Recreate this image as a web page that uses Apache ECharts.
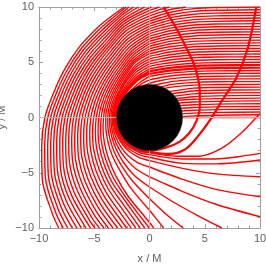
<!DOCTYPE html>
<html><head><meta charset="utf-8">
<script src="https://cdn.jsdelivr.net/npm/echarts@6/dist/echarts.min.js"></script>
<style>html,body{margin:0;padding:0;background:#fff}#c{width:266px;height:264px}</style>
</head><body><div id="c"></div>
<script>
const tickValues = [-10, -5, 0, 5, 10];
const tickLabels = ['\u221210', '\u22125', '0', '5', '10'];
const xAxisName = 'x / M';
const yAxisName = 'y / M';
const diskRadius = 3;

// rays (x, y) that fall straight into the black disk
const capturedPaths = [
  [[10,0],[2,0]],[[10,0.25],[6,0.21],[4,0.15],[2,0]],[[10,0.5],[6,0.46],[4,0.4],[2,0.25]],
  [[10,0.75],[6,0.71],[4,0.65],[2,0.5]],[[10,1],[6,0.96],[4,0.9],[2,0.75]],
  [[10,1.25],[6,1.21],[4,1.15],[2,1.0]],[[10,1.5],[6,1.46],[4,1.4],[2,1.25]],
  [[10,1.75],[6,1.71],[4,1.65],[2,1.5]],[[10,2],[6,1.96],[4,1.88],[2,1.65]],
  [[10,2.25],[6,2.22],[4,2.14],[2,1.9]],[[10,2.5],[6,2.47],[4,2.4],[2,2.15]],
  [[10,2.75],[6,2.72],[4,2.66],[1.5,2.3]],[[10,3],[6,2.98],[4,2.93],[2,2.75],[1.2,2.6]],
  [[10,3.25],[6,3.23],[4,3.18],[2,3.0],[1,2.75]],[[10,3.5],[6,3.48],[4,3.43],[2,3.25],[1,3.05],[0,2.8]],
  [[10,3.75],[6,3.73],[4,3.68],[2,3.52],[1,3.35],[0,3.1]],
  [[10,4],[6,3.98],[4,3.93],[2,3.78],[1,3.62],[0,3.4]],
  [[10,4.25],[6,4.22],[4,4.17],[2,4.02],[1,3.89],[0,3.72]]
];
// polar continuations (angle deg, r) of the last three captured rays
const capturedArcs = [
  [[90,3.1],[105,2.85]],
  [[90,3.4],[105,3.1],[120,2.85]],
  [[90,3.72],[105,3.3],[120,3.0],[135,2.85]]
];

// escaping rays, outermost first: head (x, y), arc (angle deg, r), tail (x, y)
const rayHeads = [
  [],[],[],[],[],[],[],
  [[0.9,10],[0,9.7]],
  [[1.8,10],[1,9.78],[0,9.45]],
  [[3.3,10],[2,9.8],[1,9.53],[0,9.2]],
  [[10,10],[6,9.95],[4,9.85],[2,9.55],[1,9.28],[0,8.95]],
  [[10,9.75],[6,9.7],[4,9.6],[2,9.3],[1,9.03],[0,8.72]],
  [[10,9.5],[6,9.45],[4,9.35],[2,9.06],[1,8.8],[0,8.5]],
  [[10,9.25],[6,9.2],[4,9.11],[2,8.83],[1,8.57],[0,8.27]],
  [[10,9],[6,8.95],[4,8.86],[2,8.59],[1,8.34],[0,8.04]],
  [[10,8.75],[6,8.7],[4,8.62],[2,8.35],[1,8.11],[0,7.81]],
  [[10,8.5],[6,8.46],[4,8.37],[2,8.11],[1,7.88],[0,7.59]],
  [[10,8.25],[6,8.21],[4,8.12],[2,7.87],[1,7.64],[0,7.36]],
  [[10,8],[6,7.96],[4,7.88],[2,7.63],[1,7.4],[0,7.13]],
  [[10,7.75],[6,7.71],[4,7.63],[2,7.39],[1,7.17],[0,6.9]],
  [[10,7.5],[6,7.46],[4,7.38],[2,7.15],[1,6.94],[0,6.68]],
  [[10,7.25],[6,7.21],[4,7.14],[2,6.91],[1,6.7],[0,6.45]],
  [[10,7],[6,6.96],[4,6.89],[2,6.67],[1,6.47],[0,6.22]],
  [[10,6.75],[6,6.71],[4,6.64],[2,6.43],[1,6.24],[0,6.0]],
  [[10,6.5],[6,6.47],[4,6.4],[2,6.19],[1,6.0],[0,5.77]],
  [[10,6.25],[6,6.22],[4,6.15],[2,5.95],[1,5.76],[0,5.54]],
  [[10,6],[6,5.97],[4,5.9],[2,5.7],[1,5.53],[0,5.31]],
  [[10,5.75],[6,5.72],[4,5.66],[2,5.47],[1,5.3],[0,5.09]],
  [[10,5.5],[6,5.47],[4,5.41],[2,5.23],[1,5.06],[0,4.86]],
  [[10,5.25],[6,5.22],[4,5.16],[2,4.98],[1,4.83],[0,4.63]],
  [[10,5],[6,4.97],[4,4.91],[2,4.74],[1,4.59],[0,4.4]],
  [[10,4.75],[6,4.72],[4,4.67],[2,4.51],[1,4.36],[0,4.18]],
  [[10,4.5],[6,4.47],[4,4.42],[2,4.26],[1,4.12],[0,3.95]]
];

const rayArcs = [
  [[102.95,10.26],[112.5,9.7],[120,9.4],[135,9.0],[150,8.83],[165,8.95],[180,9.47],[195,10.1],[210,11.2],[225,12.4],[230.6,12.94]],
  [[101.9,10.22],[112.5,9.49],[120,9.17],[135,8.77],[150,8.6],[165,8.71],[180,9.21],[195,9.82],[210,10.88],[225,12.05],[232.0,12.69]],
  [[100.5,10.17],[112.5,9.28],[120,8.94],[135,8.54],[150,8.37],[165,8.47],[180,8.95],[195,9.54],[210,10.57],[225,11.7],[233.5,12.44]],
  [[98.25,10.10],[105,9.6],[120,8.71],[135,8.31],[150,8.14],[165,8.23],[180,8.69],[195,9.26],[210,10.25],[225,11.36],[235.0,12.2]],
  [[95.7,10.05],[105,9.4],[120,8.48],[135,8.08],[150,7.91],[165,7.99],[180,8.43],[195,8.98],[210,9.93],[225,11.01],[236.7,11.97]],
  [[92.6,10.01],[105,9.2],[120,8.25],[135,7.85],[150,7.68],[165,7.75],[180,8.17],[195,8.7],[210,9.62],[225,10.66],[238.3,11.75]],
  [[89.1,10.0],[105,9.0],[120,8.02],[135,7.62],[150,7.45],[165,7.51],[180,7.91],[195,8.41],[210,9.3],[225,10.31],[240.1,11.54]],
  [[90,9.7],[105,8.8],[120,7.8],[135,7.39],[150,7.22],[165,7.27],[180,7.65],[195,8.13],[210,8.98],[225,9.97],[241.9,11.34]],
  [[90,9.45],[105,8.58],[120,7.6],[135,7.17],[150,6.99],[165,7.03],[180,7.39],[195,7.85],[210,8.67],[225,9.62],[240,10.8],[243.7,11.15]],
  [[90,9.2],[105,8.36],[120,7.4],[135,6.95],[150,6.77],[165,6.8],[180,7.13],[195,7.57],[210,8.35],[225,9.27],[240,10.45],[245.6,10.98]],
  [[90,8.95],[105,8.14],[120,7.2],[135,6.73],[150,6.55],[165,6.57],[180,6.87],[195,7.29],[210,8.03],[225,8.92],[240,10.1],[247.6,10.82]],
  [[90,8.72],[105,7.89],[120,6.96],[135,6.50],[150,6.32],[165,6.33],[180,6.61],[195,7.01],[210,7.72],[225,8.58],[240,9.72],[249.6,10.67]],
  [[90,8.5],[105,7.66],[120,6.74],[135,6.27],[150,6.09],[165,6.10],[180,6.35],[195,6.73],[210,7.40],[225,8.23],[240,9.35],[251.7,10.53]],
  [[90,8.27],[105,7.41],[120,6.51],[135,6.04],[150,5.86],[165,5.86],[180,6.09],[195,6.45],[210,7.08],[225,7.88],[240,8.97],[253.9,10.41]],
  [[90,8.04],[105,7.16],[120,6.28],[135,5.82],[150,5.63],[165,5.62],[180,5.83],[195,6.17],[210,6.77],[225,7.53],[240,8.59],[256.1,10.30]],
  [[90,7.81],[105,6.93],[120,6.05],[135,5.59],[150,5.39],[165,5.38],[180,5.57],[195,5.89],[210,6.45],[225,7.19],[240,8.22],[255,9.72],[258.3,10.21]],
  [[90,7.59],[105,6.68],[120,5.83],[135,5.37],[150,5.17],[165,5.15],[180,5.31],[195,5.6],[210,6.13],[225,6.84],[240,7.84],[255,9.28],[260.6,10.14]],
  [[90,7.36],[105,6.45],[120,5.6],[135,5.16],[150,4.95],[165,4.92],[180,5.06],[195,5.33],[210,5.83],[225,6.5],[240,7.47],[255,8.84],[262.9,10.08]],
  [[90,7.13],[105,6.22],[120,5.4],[135,4.95],[150,4.74],[165,4.70],[180,4.82],[195,5.07],[210,5.53],[225,6.17],[240,7.11],[255,8.42],[265.2,10.04]],
  [[90,6.9],[105,6.01],[120,5.19],[135,4.75],[150,4.54],[165,4.49],[180,4.59],[195,4.82],[210,5.24],[225,5.86],[240,6.77],[255,8.01],[267.5,10.01]],
  [[90,6.68],[105,5.81],[120,5.01],[135,4.56],[150,4.35],[165,4.30],[180,4.37],[195,4.58],[210,4.97],[225,5.55],[240,6.43],[255,7.7],[269.9,10.0]],
  [[90,6.45],[105,5.61],[120,4.82],[135,4.38],[150,4.17],[165,4.11],[180,4.16],[195,4.35],[210,4.7],[225,5.25],[240,6.1],[255,7.4],[270,9.5],[272.2,10.01]],
  [[90,6.22],[105,5.42],[120,4.65],[135,4.2],[150,3.99],[165,3.93],[180,3.96],[195,4.08],[210,4.35],[225,4.8],[240,5.45],[255,6.6],[270,8.4]],
  [[90,6.0],[105,5.26],[120,4.5],[135,4.05],[150,3.83],[165,3.77],[180,3.78],[195,3.88],[210,4.1],[225,4.48],[240,5.05],[255,5.95],[270,7.35]],
  [[90,5.77],[105,5.12],[120,4.36],[135,3.91],[150,3.68],[165,3.61],[180,3.62],[195,3.7],[210,3.88],[225,4.2],[240,4.7],[255,5.4],[270,6.29]],
  [[90,5.54],[105,4.9],[120,4.19],[135,3.75],[150,3.54],[165,3.49],[180,3.49],[195,3.55],[210,3.7],[225,3.95],[240,4.3],[255,4.8],[270,5.38]],
  [[90,5.31],[105,4.72],[120,4.07],[135,3.65],[150,3.44],[165,3.38],[180,3.38],[195,3.42],[210,3.52],[225,3.7],[240,3.95],[255,4.22],[270,4.48]],
  [[90,5.09],[105,4.53],[120,3.95],[135,3.58],[150,3.39],[165,3.31],[180,3.29],[195,3.31],[210,3.36],[225,3.45],[240,3.58],[255,3.73],[270,3.9]],
  [[90,4.86],[105,4.33],[120,3.78],[135,3.45],[150,3.3],[165,3.24],[180,3.22],[195,3.23],[210,3.26],[225,3.32],[240,3.4],[255,3.5],[270,3.6]],
  [[90,4.63],[105,4.12],[120,3.63],[135,3.34],[150,3.21],[165,3.17],[180,3.16],[195,3.16],[210,3.17],[225,3.2],[240,3.24],[255,3.3],[270,3.36]],
  [[90,4.4],[105,3.92],[120,3.49],[135,3.25],[150,3.16],[165,3.13],[180,3.12],[195,3.12],[210,3.12],[225,3.13],[240,3.14],[255,3.16],[270,3.2]],
  [[90,4.18],[105,3.74],[120,3.37],[135,3.17],[150,3.11],[165,3.09],[180,3.08],[195,3.08],[210,3.08],[225,3.09],[240,3.09],[255,3.1],[270,3.12]],
  [[90,3.95],[105,3.6],[120,3.28],[135,3.11],[150,3.07],[165,3.05],[180,3.05],[195,3.05],[210,3.05],[225,3.05],[240,3.06],[255,3.06],[270,3.07]]
];

const rayTails = [
  [],[],[],[],[],[],[],[],[],[],[],[],[],[],[],[],[],[],[],[],[],[],
  [[0,-8.4],[0.6,-9.15],[1.27,-10]],
  [[0,-7.35],[1.5,-8.75],[3.05,-10]],
  [[0,-6.29],[2.03,-7.58],[4.4,-8.9],[6.55,-10]],
  [[0,-5.38],[3,-6.7],[6,-7.85],[10,-8.98]],
  [[0,-4.48],[3,-5.6],[6,-6.5],[10,-7.17]],
  [[0,-3.9],[3,-4.6],[6,-5.1],[10,-5.36]],
  [[0,-3.6],[3,-4.15],[6,-4.2],[10,-3.85]],
  [[0,-3.36],[3,-3.75],[6,-3.75],[8,-3.55],[10,-3.25]],
  [[0,-3.2],[2.5,-3.5],[4.5,-3.5],[6.5,-2.8],[8.3,-1.4],[10,0.36]],
  [[0,-3.12],[1.8,-3.3],[3.2,-2.9],[4.3,-1.8],[5.5,-0.2],[6.6,1.6],[7.84,3.55],[8.9,6.3],[9.66,10]],
  [[0,-3.07],[1.6,-2.68],[2.7,-2.2],[3.6,-1.4],[4.25,-0.3],[4.55,1.0],[4.55,2.3],[4.4,3.5],[3.95,5.0],[3.32,6.32],[2.35,8.2],[1.27,10]]
];
const thickRays = [31, 32];

const red = '#ff0000';
const frameColor = '#a0a0a0';
const labelColor = '#606060';

function cartSeries(path, w) {
  return { type: 'line', coordinateSystem: 'cartesian2d', data: path, showSymbol: false, smooth: 0.3, clip: true,
    lineStyle: { color: red, width: w }, z: 3, silent: true, animation: false };
}
function polarSeries(arc, w) {
  return { type: 'line', coordinateSystem: 'polar', data: arc.map(p => [p[1], p[0]]), showSymbol: false, smooth: 0.3,
    lineStyle: { color: red, width: w }, z: 3, silent: true, animation: false };
}

const series = [];
series.push({
  type: 'line', data: [], z: 1, silent: true, animation: false,
  markLine: { silent: true, symbol: 'none', label: { show: false }, animation: false,
    lineStyle: { color: '#b4b4b4', width: 1, type: 'solid' }, data: [{ xAxis: 0 }, { yAxis: 0 }] }
});
const baseW = 1.4;
capturedPaths.forEach(p => series.push(cartSeries(p, baseW)));
capturedArcs.forEach(a => series.push(polarSeries(a, baseW)));
rayArcs.forEach((arc, i) => {
  const w = thickRays.indexOf(i) >= 0 ? 2.2 : baseW;
  if (rayHeads[i].length) series.push(cartSeries(rayHeads[i], w));
  series.push(polarSeries(arc, w));
  if (rayTails[i].length) series.push(cartSeries(rayTails[i], w));
});
series.push({
  type: 'custom', coordinateSystem: 'cartesian2d', z: 10, silent: true, animation: false, data: [[0, 0, diskRadius]],
  renderItem: function (params, api) {
    const c = api.coord([api.value(0), api.value(1)]);
    const r = api.size([api.value(2), 0])[0];
    return { type: 'circle', shape: { cx: c[0], cy: c[1], r: r }, style: { fill: '#000', stroke: '#444', lineWidth: 0.5 } };
  }
});

function fmt(v) { const i = tickValues.indexOf(v); return i >= 0 ? tickLabels[i] : ''; }
const font = 'Liberation Sans';
function axisBase(pos, showLabel, name) {
  return {
    type: 'value', min: -10, max: 10, interval: 5, position: pos,
    axisLine: { show: true, onZero: false, lineStyle: { color: frameColor, width: 1 } },
    axisTick: { show: true, inside: true, length: 4, lineStyle: { color: frameColor } },
    minorTick: { show: true, splitNumber: 5, length: 2.5, lineStyle: { color: frameColor } },
    splitLine: { show: false },
    axisLabel: { show: showLabel, formatter: fmt, color: labelColor, fontFamily: font, fontSize: 11, margin: 5 },
    name: name || '', nameLocation: 'middle', nameMoveOverlap: false,
    nameTextStyle: { color: labelColor, fontFamily: font, fontSize: 11 }
  };
}
const xb = axisBase('bottom', true, xAxisName); xb.nameGap = 25;
const xt = axisBase('top', false);
const yl = axisBase('left', true, yAxisName); yl.nameGap = 32;
const yr = axisBase('right', false);
const hidden = { show: true, axisLine: { show: false }, axisTick: { show: false }, axisLabel: { show: false }, splitLine: { show: false } };

const chart = echarts.init(document.getElementById('c'), null, { renderer: 'canvas' });
chart.setOption({
  animation: false,
  backgroundColor: '#fff',
  grid: { left: 39, top: 7, width: 221, height: 221, containLabel: false, outerBoundsMode: 'none' },
  xAxis: [xb, xt],
  yAxis: [yl, yr],
  polar: { center: [149.5, 117.5], radius: 165.75 },
  radiusAxis: Object.assign({ type: 'value', min: 0, max: 15 }, hidden),
  angleAxis: Object.assign({ type: 'value', min: 0, max: 360, startAngle: 0, clockwise: false }, hidden),
  series: series
});
</script></body></html>
